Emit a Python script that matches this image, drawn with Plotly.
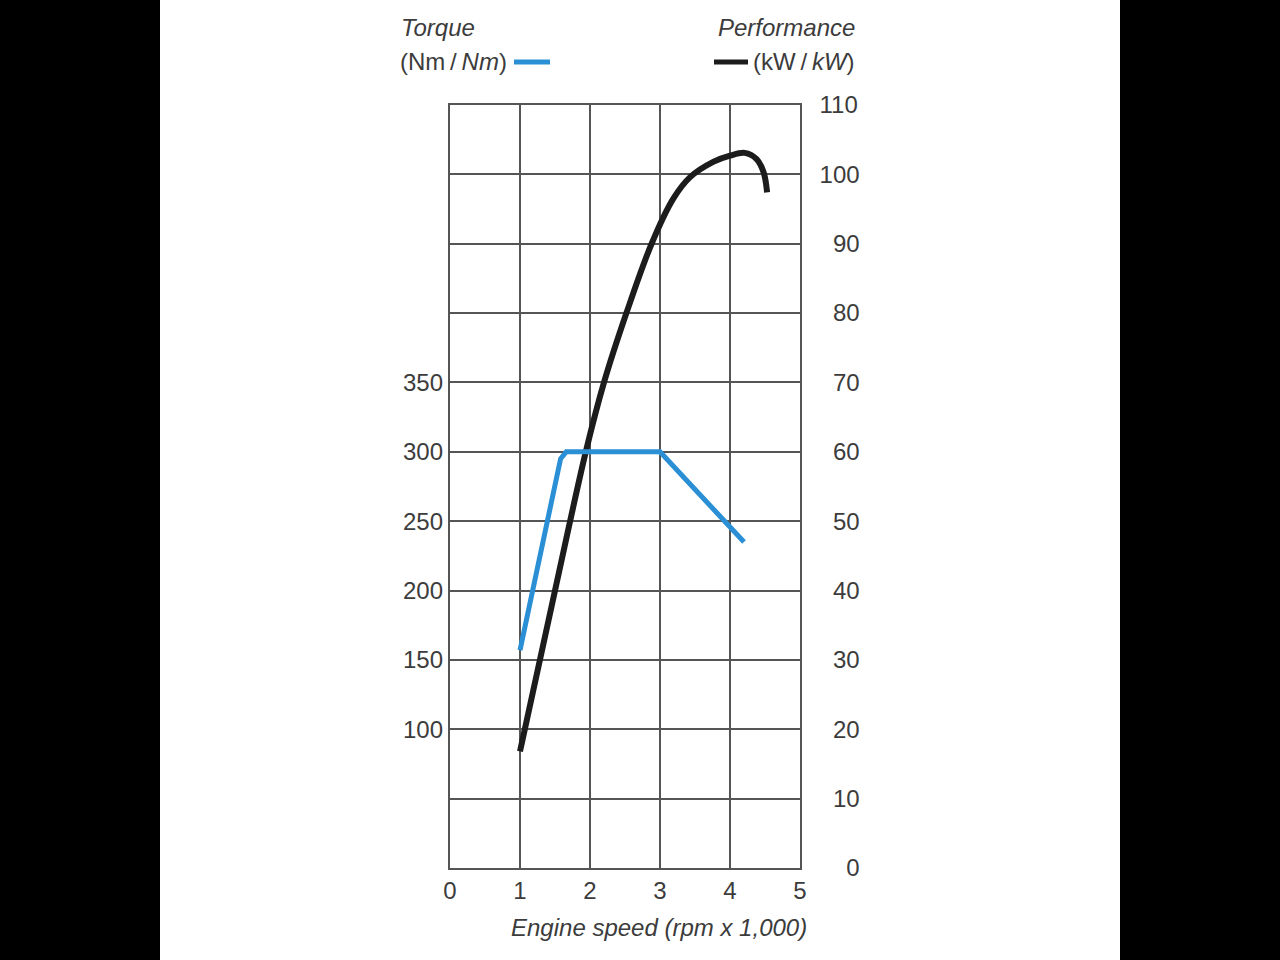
import plotly.graph_objects as go

# Data
speed_ticks = [0, 1, 2, 3, 4, 5]
power_ticks = list(range(0, 111, 10))
torque_ticks = [100, 150, 200, 250, 300, 350]

torque_speed = [1.0, 1.58, 1.66, 3.0, 4.2]
torque_nm = [157, 295, 300, 300, 235]

power_speed = [1.0, 1.5, 1.94, 2.2, 2.52, 2.88, 3.19, 3.43, 3.76, 4.0, 4.21, 4.38, 4.48, 4.53]
power_kw = [16.8, 40, 60, 70, 80, 90, 96.5, 99.6, 101.8, 102.7, 103.1, 102.2, 100.3, 97.4]

TXT = "#3c3c3c"
GRID = "#555555"
FONT = "Liberation Sans"
FS = 24

L, R, T, B = 450, 480, 105, 92
PW = 1280 - L - R
PH = 960 - T - B


def px(xp):
    return (xp - L) / PW


def py(yp):
    return (960 - B - yp) / PH


fig = go.Figure()
fig.add_trace(go.Scatter(x=power_speed, y=power_kw, yaxis="y", mode="lines",
                         line=dict(color="#1c1c1c", width=6, shape="spline", smoothing=1.0),
                         showlegend=False, hoverinfo="skip"))
fig.add_trace(go.Scatter(x=torque_speed, y=torque_nm, yaxis="y2", mode="lines",
                         line=dict(color="#2b8fd6", width=5),
                         showlegend=False, hoverinfo="skip"))

fig.update_layout(
    width=1280, height=960,
    margin=dict(l=L, r=R, t=T, b=B),
    paper_bgcolor="white", plot_bgcolor="white",
    font=dict(family=FONT, size=FS, color=TXT),
    xaxis=dict(range=[0, 5], tickvals=speed_ticks, showgrid=True, gridcolor=GRID, gridwidth=1.5,
               showline=True, mirror=True, linecolor=GRID, linewidth=1.5, zeroline=False,
               ticks="", ticklabelstandoff=0, tickfont=dict(size=FS, color=TXT)),
    yaxis=dict(range=[0, 110], tickvals=power_ticks,
               ticktext=[("\u2007" * (3 - len(str(v)))) + str(v) for v in power_ticks],
               side="right", showgrid=True, gridcolor=GRID, gridwidth=1.5,
               showline=True, mirror=True, linecolor=GRID, linewidth=1.5, zeroline=False,
               ticks="", ticklabelstandoff=13, tickfont=dict(size=FS, color=TXT)),
    yaxis2=dict(range=[0, 550], tickvals=torque_ticks, side="left", overlaying="y",
                showgrid=False, zeroline=False, showline=False, ticks="",
                ticklabelstandoff=6, tickfont=dict(size=FS, color=TXT)),
)

ann = [
    dict(text="<i>Torque</i>", x=px(399), y=py(28), xanchor="left"),
    dict(text="(Nm\u2009/\u2009<i>Nm</i>)", x=px(398), y=py(61), xanchor="left"),
    dict(text="<i>Performance</i>", x=px(857), y=py(28), xanchor="right"),
    dict(text="(kW\u2009/\u2009<i>kW</i>)", x=px(857), y=py(61), xanchor="right"),
    dict(text="<i>Engine speed (rpm x 1,000)</i>", x=px(809), y=py(927), xanchor="right"),
]
for a in ann:
    fig.add_annotation(xref="paper", yref="paper", showarrow=False, yanchor="middle",
                       font=dict(family=FONT, size=FS, color=TXT), **a)

fig.add_shape(type="line", xref="paper", yref="paper", x0=px(514), x1=px(550), y0=py(62), y1=py(62),
              line=dict(color="#2b8fd6", width=5))
fig.add_shape(type="line", xref="paper", yref="paper", x0=px(714), x1=px(748), y0=py(62), y1=py(62),
              line=dict(color="#1c1c1c", width=5))
for x0, x1 in [(0, 160), (1120, 1280)]:
    fig.add_shape(type="rect", xref="paper", yref="paper", x0=px(x0), x1=px(x1), y0=py(960), y1=py(0),
                  fillcolor="black", line=dict(width=0), layer="below")

fig.write_html("out.html", config={"displayModeBar": False},
               post_script="document.body.style.margin='0px';document.body.style.overflow='hidden';")
